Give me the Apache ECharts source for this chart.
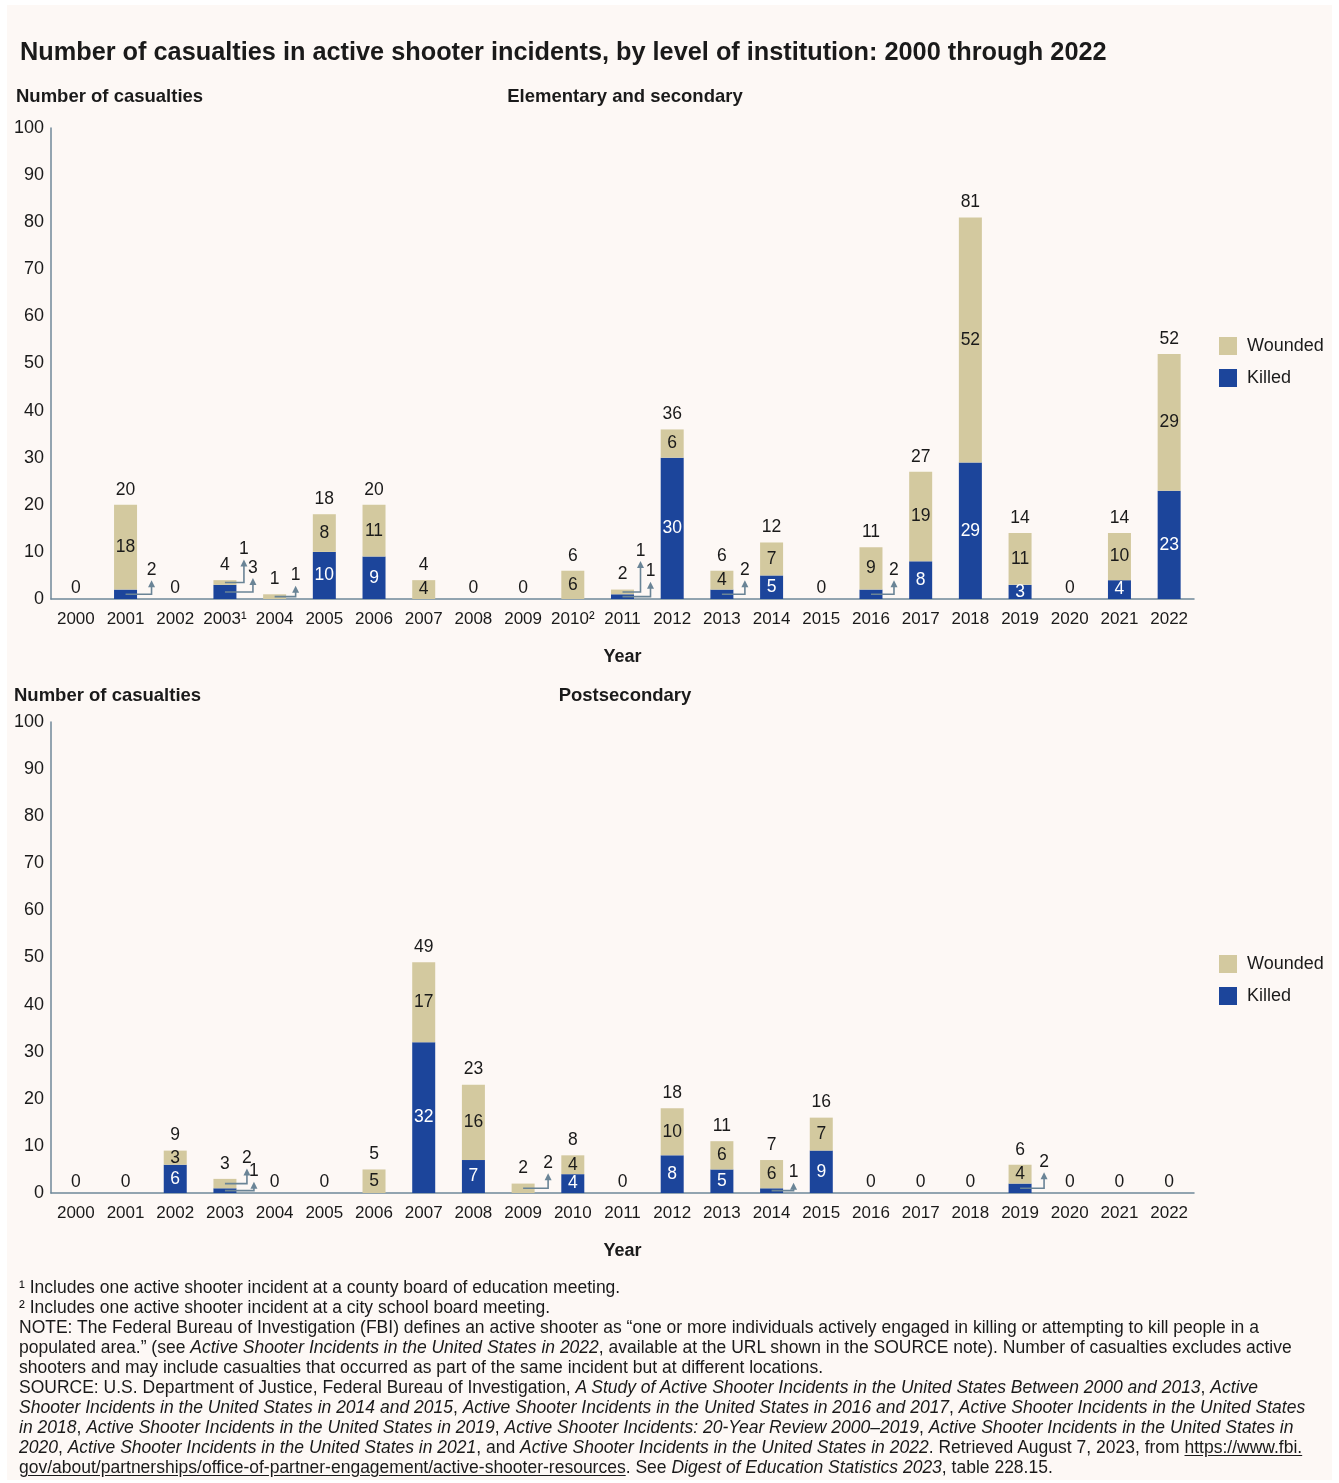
<!DOCTYPE html>
<html>
<head>
<meta charset="utf-8">
<title>Active shooter casualties by level of institution</title>
<script src="https://cdn.jsdelivr.net/npm/echarts@6/dist/echarts.min.js"></script>
<style>
  html, body { margin: 0; padding: 0; background: #ffffff; }
  #wrap { position: relative; width: 1339px; height: 1483px; }
  #chart { position: absolute; left: 0; top: 0; width: 1339px; height: 1483px; }
  #notes {
    position: absolute; left: 19px; top: 1277px;
    font-family: "Liberation Sans", Arial, Helvetica, sans-serif;
    font-size: 17.5px; line-height: 20px; color: #1a1a1a; white-space: nowrap;
  }
  #notes u { text-underline-offset: 2px; }
</style>
</head>
<body>
<div id="wrap">
  <div id="chart"></div>
  <div id="notes">
    ¹ Includes one active shooter incident at a county board of education meeting.<br>
    ² Includes one active shooter incident at a city school board meeting.<br>
    NOTE: The Federal Bureau of Investigation (FBI) defines an active shooter as “one or more individuals actively engaged in killing or attempting to kill people in a<br>
    populated area.” (see <i>Active Shooter Incidents in the United States in 2022</i>, available at the URL shown in the SOURCE note). Number of casualties excludes active<br>
    shooters and may include casualties that occurred as part of the same incident but at different locations.<br>
    SOURCE: U.S. Department of Justice, Federal Bureau of Investigation, <i>A Study of Active Shooter Incidents in the United States Between 2000 and 2013</i>, <i>Active</i><br>
    <i>Shooter Incidents in the United States in 2014 and 2015</i>, <i>Active Shooter Incidents in the United States in 2016 and 2017</i>, <i>Active Shooter Incidents in the United States</i><br>
    <i>in 2018</i>, <i>Active Shooter Incidents in the United States in 2019</i>, <i>Active Shooter Incidents: 20-Year Review 2000–2019</i>, <i>Active Shooter Incidents in the United States in</i><br>
    <i>2020</i>, <i>Active Shooter Incidents in the United States in 2021</i>, and <i>Active Shooter Incidents in the United States in 2022</i>. Retrieved August 7, 2023, from <u>https://www.fbi.</u><br>
    <u>gov/about/partnerships/office-of-partner-engagement/active-shooter-resources</u>. See <i>Digest of Education Statistics 2023</i>, table 228.15.
  </div>
</div>
<script>
// ---- Data -------------------------------------------------------------
const years = ['2000','2001','2002','2003','2004','2005','2006','2007','2008','2009','2010','2011',
               '2012','2013','2014','2015','2016','2017','2018','2019','2020','2021','2022'];

// Tick labels (footnote markers on 2003 and 2010 in the elementary/secondary panel)
const elemYearLabels = ['2000','2001','2002','2003¹','2004','2005','2006','2007','2008','2009','2010²','2011',
                        '2012','2013','2014','2015','2016','2017','2018','2019','2020','2021','2022'];
const postYearLabels = years.slice();

// Elementary and secondary
const elemKilled  = [0, 2, 0, 3, 0, 10, 9, 0, 0, 0, 0, 1, 30, 2, 5, 0, 2, 8, 29, 3, 0, 4, 23];
const elemWounded = [0, 18, 0, 1, 1, 8, 11, 4, 0, 0, 6, 1, 6, 4, 7, 0, 9, 19, 52, 11, 0, 10, 29];

// Postsecondary
const postKilled  = [0, 0, 6, 1, 0, 0, 0, 32, 7, 0, 4, 0, 8, 5, 1, 9, 0, 0, 0, 2, 0, 0, 0];
const postWounded = [0, 0, 3, 2, 0, 0, 5, 17, 16, 2, 4, 0, 10, 6, 6, 7, 0, 0, 0, 4, 0, 0, 0];

const yTicks = { min: 0, max: 100, step: 10 };

// Small segments get their value on a leader line with an arrow instead of inside the bar.
// dx: horizontal run of the leader (px), rise: vertical run up to the arrow tip (px).
const elemCallouts = [
  { year: '2001', seg: 'killed',  dx: 26, rise: 14 },
  { year: '2003', seg: 'wounded', dx: 19, rise: 23 },
  { year: '2003', seg: 'killed',  dx: 28, rise: 14 },
  { year: '2004', seg: 'wounded', dx: 21, rise: 11 },
  { year: '2011', seg: 'wounded', dx: 18, rise: 31 },
  { year: '2011', seg: 'killed',  dx: 28, rise: 15 },
  { year: '2013', seg: 'killed',  dx: 23, rise: 14 },
  { year: '2016', seg: 'killed',  dx: 23, rise: 14 }
];
const postCallouts = [
  { year: '2003', seg: 'wounded', dx: 22, rise: 15 },
  { year: '2003', seg: 'killed',  dx: 29, rise: 9 },
  { year: '2009', seg: 'wounded', dx: 25, rise: 15 },
  { year: '2014', seg: 'killed',  dx: 22, rise: 8 },
  { year: '2019', seg: 'killed',  dx: 24, rise: 16 }
];

// ---- Styling ----------------------------------------------------------
const FONT = '"Liberation Sans", Arial, Helvetica, sans-serif';
const INK = '#1a1a1a';
const KILLED = '#1c459b';
const WOUNDED = '#d3c99f';
const AXIS = '#6f8899';
const LEADER = '#6a8496';
const NUM_SIZE = 17.5;

const panels = [
  { killed: elemKilled, wounded: elemWounded, labels: elemYearLabels, callouts: elemCallouts, top: 128 },
  { killed: postKilled, wounded: postWounded, labels: postYearLabels, callouts: postCallouts, top: 722 }
];
const PLOT_LEFT = 51, PLOT_WIDTH = 1143, PLOT_HEIGHT = 471;

function isCallout(panel, i, seg) {
  return panel.callouts.some(c => c.year === years[i] && c.seg === seg);
}

function segmentData(panel, seg) {
  const vals = panel[seg];
  return vals.map((v, i) => ({
    value: v,
    label: { show: v > 0 && !isCallout(panel, i, seg) }
  }));
}

function textStyle(text, x, y, align, vAlign, font, fill) {
  return { text, x, y, align, textAlign: align, verticalAlign: vAlign, textVerticalAlign: vAlign, font, fill };
}

const series = [];
panels.forEach((panel, p) => {
  const stack = 'casualties' + p;
  series.push({
    name: 'Killed', type: 'bar', stack, xAxisIndex: p, yAxisIndex: p, barWidth: 23,
    itemStyle: { color: KILLED },
    label: { position: 'inside', color: '#ffffff', fontSize: NUM_SIZE, fontFamily: FONT },
    data: segmentData(panel, 'killed')
  });
  series.push({
    name: 'Wounded', type: 'bar', stack, xAxisIndex: p, yAxisIndex: p, barWidth: 23,
    itemStyle: { color: WOUNDED },
    label: { position: 'inside', color: INK, fontSize: NUM_SIZE, fontFamily: FONT },
    data: segmentData(panel, 'wounded')
  });

  // Totals above each stacked bar (also the zero years)
  const totals = panel.killed.map((k, i) => [i, k + panel.wounded[i]]);
  series.push({
    name: 'Total' + p, type: 'custom', xAxisIndex: p, yAxisIndex: p, clip: false, silent: true,
    data: totals,
    renderItem: (params, api) => {
      const v = api.value(1);
      const pt = api.coord([api.value(0), v]);
      return {
        type: 'text',
        style: textStyle(String(v), pt[0], pt[1] - (v > 0 ? 6 : 2), 'center', 'bottom', NUM_SIZE + 'px ' + FONT, INK)
      };
    }
  });

  // Leader lines with arrowheads for small segments
  const calloutData = panel.callouts.map(c => {
    const i = years.indexOf(c.year);
    const k = panel.killed[i], w = panel.wounded[i];
    const mid = c.seg === 'killed' ? k / 2 : k + w / 2;
    return [i, mid, panel[c.seg][i]];
  });
  series.push({
    name: 'Callout' + p, type: 'custom', xAxisIndex: p, yAxisIndex: p, clip: false, silent: true, z: 5,
    data: calloutData,
    renderItem: (params, api) => {
      const c = panel.callouts[params.dataIndex];
      const start = api.coord([api.value(0), api.value(1)]);
      const x0 = start[0], y0 = start[1];
      const x1 = x0 + c.dx, tip = y0 - c.rise;
      return {
        type: 'group',
        children: [
          { type: 'polyline', shape: { points: [[x0, y0], [x1, y0], [x1, tip + 6]] },
            style: { stroke: LEADER, lineWidth: 1.6, fill: null } },
          { type: 'polygon', shape: { points: [[x1 - 3.5, tip + 7], [x1 + 3.5, tip + 7], [x1, tip]] },
            style: { fill: LEADER } },
          { type: 'text', style: textStyle(String(api.value(2)), x1, tip - 1, 'center', 'bottom', NUM_SIZE + 'px ' + FONT, INK) }
        ]
      };
    }
  });
});

const grids = panels.map(panel => ({ left: PLOT_LEFT, top: panel.top, width: PLOT_WIDTH, height: PLOT_HEIGHT }));

const xAxes = panels.map((panel, p) => ({
  type: 'category', gridIndex: p, data: panel.labels,
  axisLine: { lineStyle: { color: AXIS, width: 1.5 } },
  axisTick: { show: false },
  axisLabel: { interval: 0, margin: 12, fontSize: 17, color: INK, fontFamily: FONT },
  name: 'Year', nameLocation: 'middle', nameGap: 49,
  nameTextStyle: { fontSize: 18, fontWeight: 'bold', color: INK, fontFamily: FONT }
}));

const yAxes = panels.map((panel, p) => ({
  type: 'value', gridIndex: p, min: yTicks.min, max: yTicks.max, interval: yTicks.step,
  axisLine: { show: true, lineStyle: { color: AXIS, width: 1.5 } },
  axisTick: { show: false },
  splitLine: { show: false },
  axisLabel: { margin: 7, fontSize: 18, color: INK, fontFamily: FONT }
}));

const legends = [337, 955].map(top => ({
  data: ['Wounded', 'Killed'], orient: 'vertical', left: 1219, top, padding: 0,
  itemWidth: 18, itemHeight: 18, itemGap: 14, icon: 'rect', selectedMode: false,
  textStyle: { fontSize: 18, color: INK, fontFamily: FONT, padding: [0, 0, 0, 5] }
}));

const headBold = size => 'bold ' + size + 'px ' + FONT;
const graphic = [
  { type: 'rect', z: -10, silent: true, shape: { x: 7, y: 5, width: 1325, height: 1475 }, style: { fill: '#fdf8f5' } },
  { type: 'text', style: textStyle('Number of casualties in active shooter incidents, by level of institution: 2000 through 2022', 20, 53, 'left', 'middle', headBold(25.3), INK) },
  { type: 'text', style: textStyle('Number of casualties', 16, 97, 'left', 'middle', headBold(18.5), INK) },
  { type: 'text', style: textStyle('Elementary and secondary', 625, 97, 'center', 'middle', headBold(18.5), INK) },
  { type: 'text', style: textStyle('Number of casualties', 14, 696, 'left', 'middle', headBold(18.5), INK) },
  { type: 'text', style: textStyle('Postsecondary', 625, 696, 'center', 'middle', headBold(18.5), INK) }
];

const chart = echarts.init(document.getElementById('chart'), null, { renderer: 'canvas' });
chart.setOption({
  backgroundColor: '#ffffff',
  animation: false,
  textStyle: { fontFamily: FONT },
  grid: grids,
  xAxis: xAxes,
  yAxis: yAxes,
  legend: legends,
  graphic,
  series
});
</script>
</body>
</html>
